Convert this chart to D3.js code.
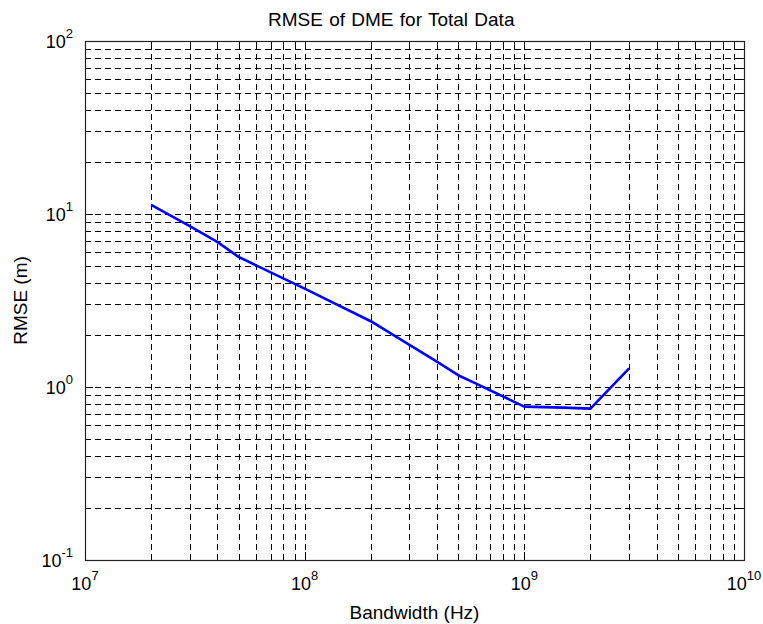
<!DOCTYPE html>
<html>
<head>
<meta charset="utf-8">
<script src="https://cdn.jsdelivr.net/npm/d3@7"></script>
<style>
  html, body { margin: 0; padding: 0; background: #fff; }
  svg { display: block; }
  text { font-family: "Liberation Sans", Arial, sans-serif; fill: #000; }
</style>
</head>
<body>
<svg id="chart" width="763" height="624"></svg>
<script>
// ---- data ----
const bandwidth = [2e7, 3e7, 4e7, 5e7, 1e8, 2e8, 3e8, 4e8, 5e8, 6e8, 1e9, 1.5e9, 2e9, 3e9];
const rmse      = [11.3, 8.5, 6.9, 5.65, 3.7, 2.4, 1.75, 1.4, 1.17, 1.05, 0.77, 0.76, 0.75, 1.28];
const xTickExps = [7, 8, 9, 10];
const yTickExps = [-1, 0, 1, 2];
const titleText = "RMSE of DME for Total Data";
const xLabelText = "Bandwidth (Hz)";
const yLabelText = "RMSE (m)";

// ---- layout ----
const L = 85, R = 744, T = 41, B = 560;
const svg = d3.select("#chart");
const x = d3.scaleLog().domain([1e7, 1e10]).range([L, R]);
const y = d3.scaleLog().domain([0.1, 100]).range([B, T]);

function logTicks(lo, hi) {
  const out = [];
  for (let e = lo; e < hi; e++) for (let m = 1; m <= 9; m++) out.push(m * Math.pow(10, e));
  out.push(Math.pow(10, hi));
  return out;
}
const xAll = logTicks(7, 10);
const yAll = logTicks(-1, 2);
const isMajor = v => Math.abs(Math.log10(v) - Math.round(Math.log10(v))) < 1e-9;

// grid
const grid = svg.append("g").attr("stroke", "#000").attr("stroke-width", 1)
  .attr("stroke-dasharray", "6,4").attr("fill", "none").attr("shape-rendering", "crispEdges");
grid.selectAll("line.gx").data(xAll.filter(v => v > 1e7 && v < 1e10)).join("line")
  .attr("x1", d => Math.round(x(d)) + 0.5).attr("x2", d => Math.round(x(d)) + 0.5)
  .attr("y1", B).attr("y2", T);
grid.selectAll("line.gy").data(yAll.filter(v => v > 0.1 && v < 100)).join("line")
  .attr("y1", d => Math.round(y(d)) + 0.5).attr("y2", d => Math.round(y(d)) + 0.5)
  .attr("x1", L).attr("x2", R);

// axes with inward ticks
function styleAxis(g) {
  g.select(".domain").remove();
  g.selectAll(".tick line").attr("stroke", "#000").attr("shape-rendering", "crispEdges");
  g.selectAll(".tick text").remove();
}
const gxB = svg.append("g").attr("transform", `translate(0,${B})`).call(d3.axisBottom(x).tickValues(xAll).tickSize(0).tickFormat(""));
gxB.selectAll(".tick line").attr("y2", d => isMajor(d) ? -8 : -5);
styleAxis(gxB);
const gxT = svg.append("g").attr("transform", `translate(0,${T})`).call(d3.axisTop(x).tickValues(xAll).tickSize(0).tickFormat(""));
gxT.selectAll(".tick line").attr("y2", d => isMajor(d) ? 8 : 5);
styleAxis(gxT);
const gyL = svg.append("g").attr("transform", `translate(${L},0)`).call(d3.axisLeft(y).tickValues(yAll).tickSize(0).tickFormat(""));
gyL.selectAll(".tick line").attr("x2", d => isMajor(d) ? 8 : 5);
styleAxis(gyL);
const gyR = svg.append("g").attr("transform", `translate(${R},0)`).call(d3.axisRight(y).tickValues(yAll).tickSize(0).tickFormat(""));
gyR.selectAll(".tick line").attr("x2", d => isMajor(d) ? -8 : -5);
styleAxis(gyR);

// box
svg.append("rect").attr("x", L + 0.5).attr("y", T + 0.5).attr("width", R - L).attr("height", B - T)
  .attr("fill", "none").attr("stroke", "#222").attr("stroke-width", 1.2);

// tick labels
function powLabel(sel, exp) {
  sel.append("tspan").attr("font-size", 18).text("10");
  sel.append("tspan").attr("font-size", 13).attr("dy", -10).text(String(exp));
}
xTickExps.forEach(e => {
  const t = svg.append("text").attr("x", x(Math.pow(10, e))).attr("y", 590).attr("text-anchor", "middle");
  powLabel(t, e);
});
yTickExps.forEach(e => {
  const t = svg.append("text").attr("x", 73).attr("y", y(Math.pow(10, e)) + 7).attr("text-anchor", "end");
  powLabel(t, e);
});

// labels
svg.append("text").attr("x", 268).attr("y", 26).attr("font-size", 19).attr("word-spacing", 1).text(titleText);
svg.append("text").attr("x", (L + R) / 2).attr("y", 619).attr("text-anchor", "middle").attr("font-size", 19).text(xLabelText);
svg.append("text").attr("transform", `translate(27,${(T + B) / 2}) rotate(-90)`).attr("text-anchor", "middle")
  .attr("font-size", 19).text(yLabelText);

// data line
const line = d3.line().x((d, i) => x(bandwidth[i])).y(d => y(d));
svg.append("path").datum(rmse).attr("d", line).attr("fill", "none")
  .attr("stroke", "#0000ff").attr("stroke-width", 2.6).attr("stroke-linejoin", "round");
</script>
</body>
</html>
